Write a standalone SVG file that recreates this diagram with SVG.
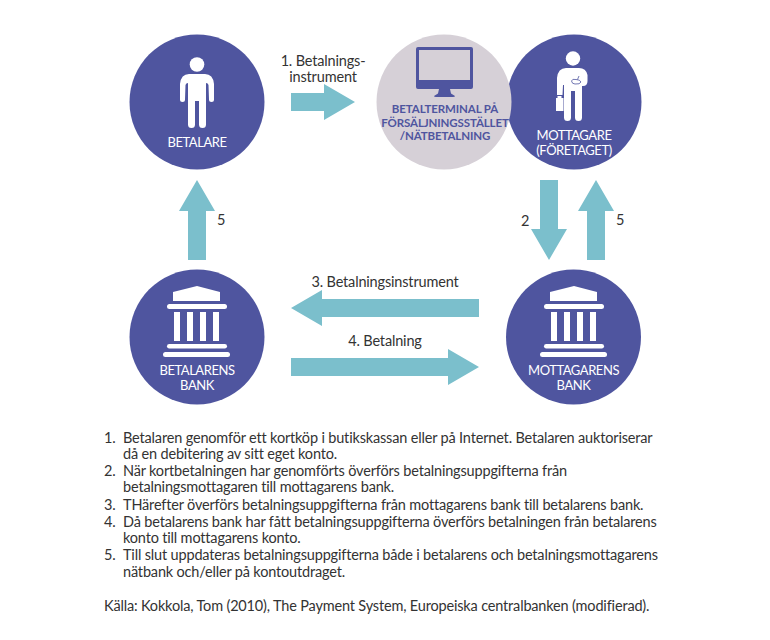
<svg xmlns="http://www.w3.org/2000/svg" width="770" height="640" viewBox="0 0 770 640">
<style>
text{font-family:Lato,"Open Sans","Liberation Sans",sans-serif}
.c{fill:#4f559f}
.t{fill:#d6d0d7}
.w{fill:#fff}
.n{font-size:13px;fill:#fff;text-anchor:middle;letter-spacing:-.45px}
.m{font-size:11.500px;fill:#4f559f;text-anchor:middle;font-weight:700;letter-spacing:-.12px}
.a{fill:#7bbfcc}
.l{font-size:14.500px;fill:#333;text-anchor:middle;letter-spacing:-.17px}
.b{font-size:14.500px;fill:#333;letter-spacing:-.17px}
</style>
<rect width="770" height="640" fill="#fff"/>
<g id="connectors">
<path class="a" d="M291 93H324V84L355 102L324 120V111H291Z"/>
<path class="a" d="M479 299H322V290L291 308L322 326V317H479Z"/>
<path class="a" d="M291 358H448V349L479 367L448 385V376H291Z"/>
<path class="a" d="M540 180H558V229H567L549 260L531 229H540Z"/>
<path class="a" d="M587 260V211H578L596 180L614 211H605V260Z"/>
<path class="a" d="M188 260V211H179L197 180L215 211H206V260Z"/>
<text class="l" x="323" y="66">1. Betalnings-</text>
<text class="l" x="323" y="82">instrument</text>
<text class="l" x="385" y="287">3. Betalningsinstrument</text>
<text class="l" x="385" y="346">4. Betalning</text>
<text class="l" x="525" y="226">2</text>
<text class="l" x="620" y="225">5</text>
<text class="l" x="221" y="225">5</text>
</g>
<g id="betalare">
<circle class="c" cx="197" cy="102" r="67.5"/>
<circle class="w" cx="197" cy="64.500" r="7.3"/>
<path class="w" d="M189 74H205Q213 74 214 84L214 99.500A2.500 2.500 0 0 1 209 99.500L208.500 85Q208 83 206 83V124.500A3.500 3.500 0 0 1 199 124.500V101H195V124.500A3.500 3.500 0 0 1 188 124.500V83Q186 83 185.500 85L185 99.500A2.500 2.500 0 0 1 180 99.500L180 84Q181 74 189 74Z"/>
<text class="n" x="197" y="147">BETALARE</text>
</g>
<g id="mottagare">
<circle class="c" cx="574" cy="102" r="67.500"/>
<circle class="w" cx="573" cy="58.500" r="7.200"/>
<path class="w" d="M566 68H579Q586 68 587.500 75V81Q587.500 86 583 86H582V117.500A3.500 3.500 0 0 1 575 117.500V91H571V117.500A3.500 3.500 0 0 1 564 117.500V85H563L562.500 95H557V78Q558 68 566 68Z"/>
<path class="w" d="M557.500 98V96H561.500V98H563.500V111H556V98Z"/>
<path d="M579 76L577.500 79.500M571.500 81Q572 78.500 576 79.500Q580 79.500 581 82Q580 84.500 575 84Q572 84 571.500 81Z" fill="none" stroke="#4f559f" stroke-width=".8"/>
<text class="n" x="574" y="140">MOTTAGARE</text>
<text class="n" x="574" y="155">(FÖRETAGET)</text>
</g>
<g id="betalterminal">
<circle class="t" cx="444" cy="102" r="67.5"/>
<path class="c" fill-rule="evenodd" d="M418 47H471Q473 47 473 49V87Q473 89 471 89H450L451 93.500L455 96Q455 97 453 97H436Q434 97 434 96L438 93.500L439 89H418Q416 89 416 87V49Q416 47 418 47ZM419 50V80H470V50Z"/>
<text class="m" x="445" y="113">BETALTERMINAL PÅ</text>
<text class="m" x="445" y="126.500">FÖRSÄLJNINGSSTÄLLET</text>
<text class="m" x="445" y="140">/NÄTBETALNING</text>
</g>
<g id="betalarens-bank">
<circle class="c" cx="197" cy="337" r="67.5"/>
<path class="w" d="M173 292L197 286L220 292V301H173Z"/>
<rect class="w" x="167" y="304" width="60" height="5" rx="2.500"/>
<rect class="w" x="174" y="312" width="6" height="29"/>
<rect class="w" x="187" y="312" width="6" height="29"/>
<rect class="w" x="200" y="312" width="6" height="29"/>
<rect class="w" x="213" y="312" width="6" height="29"/>
<rect class="w" x="167" y="344" width="60" height="4.500" rx="2.250"/>
<rect class="w" x="163" y="352" width="67" height="5" rx="2.500"/>
<text class="n" x="197" y="375">BETALARENS</text>
<text class="n" x="197" y="390">BANK</text>
</g>
<g id="mottagarens-bank">
<circle class="c" cx="573.500" cy="337" r="67.500"/>
<path class="w" d="M550 292L574 286L597 292V301H550Z"/>
<rect class="w" x="544" y="304" width="60" height="5" rx="2.500"/>
<rect class="w" x="551" y="312" width="6" height="29"/>
<rect class="w" x="564" y="312" width="6" height="29"/>
<rect class="w" x="577" y="312" width="6" height="29"/>
<rect class="w" x="590" y="312" width="6" height="29"/>
<rect class="w" x="544" y="344" width="60" height="4.500" rx="2.250"/>
<rect class="w" x="540" y="352" width="67" height="5" rx="2.500"/>
<text class="n" x="573.500" y="375">MOTTAGARENS</text>
<text class="n" x="573.500" y="390">BANK</text>
</g>
<g id="notes">
<text class="b" x="104" y="443">1.</text><text class="b" x="123" y="443">Betalaren genomför ett kortköp i butikskassan eller på Internet. Betalaren auktoriserar</text>
<text class="b" x="123" y="459">då en debitering av sitt eget konto.</text>
<text class="b" x="104" y="476">2.</text><text class="b" x="123" y="476">När kortbetalningen har genomförts överförs betalningsuppgifterna från</text>
<text class="b" x="123" y="492">betalningsmottagaren till mottagarens bank.</text>
<text class="b" x="104" y="510">3.</text><text class="b" x="123" y="510">THärefter överförs betalningsuppgifterna från mottagarens bank till betalarens bank.</text>
<text class="b" x="104" y="527">4.</text><text class="b" x="123" y="527">Då betalarens bank har fått betalningsuppgifterna överförs betalningen från betalarens</text>
<text class="b" x="123" y="543">konto till mottagarens konto.</text>
<text class="b" x="104" y="560">5.</text><text class="b" x="123" y="560">Till slut uppdateras betalningsuppgifterna både i betalarens och betalningsmottagarens</text>
<text class="b" x="123" y="577">nätbank och/eller på kontoutdraget.</text>
<text class="b" x="104" y="611">Källa: Kokkola, Tom (2010), The Payment System, Europeiska centralbanken (modifierad).</text>
</g>
</svg>
